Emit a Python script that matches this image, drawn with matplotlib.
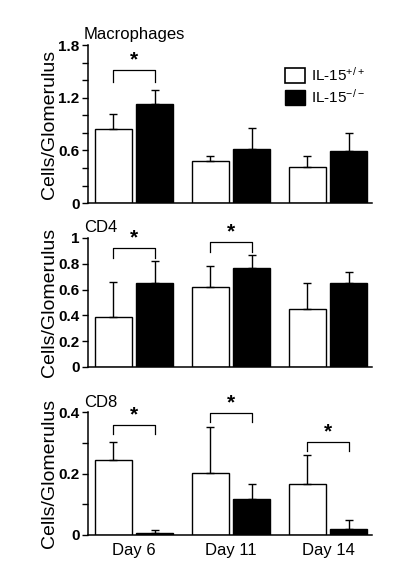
import numpy as np
import matplotlib
matplotlib.use('Agg')
import matplotlib.pyplot as plt
from matplotlib.patches import Patch

plt.rcParams['font.family'] = ['Liberation Sans', 'DejaVu Sans']
plt.rcParams['mathtext.fontset'] = 'custom'
plt.rcParams['mathtext.rm'] = 'Liberation Sans'
plt.rcParams['mathtext.default'] = 'regular'

days = ['Day 6', 'Day 11', 'Day 14']

# cells per glomerulus, mean and upper error (SEM)
mac_wt = [0.84, 0.48, 0.41]
mac_wt_err = [0.17, 0.06, 0.13]
mac_ko = [1.13, 0.62, 0.59]
mac_ko_err = [0.16, 0.24, 0.21]

cd4_wt = [0.385, 0.618, 0.452]
cd4_wt_err = [0.275, 0.162, 0.199]
cd4_ko = [0.649, 0.767, 0.651]
cd4_ko_err = [0.171, 0.101, 0.085]

cd8_wt = [0.245, 0.202, 0.167]
cd8_wt_err = [0.058, 0.149, 0.092]
cd8_ko = [0.0065, 0.116, 0.019]
cd8_ko_err = [0.0085, 0.049, 0.031]

# significance brackets: (day index, bracket height)
mac_sig = [(0, 1.51)]
cd4_sig = [(0, 0.922), (1, 0.969)]
cd8_sig = [(0, 0.359), (1, 0.397), (2, 0.303)]

fig = plt.figure(figsize=(4.13, 5.77), dpi=100)

x = np.arange(len(days))
w = 0.38
off = 0.215


def panel(rect, title, wt, wt_err, ko, ko_err, sig, ymax, major, minor, ytl):
    ax = fig.add_axes(rect)
    ax.bar(x - off, wt, w, color='white', edgecolor='black', linewidth=1,
           yerr=[np.zeros(3), wt_err], capsize=3,
           error_kw=dict(ecolor='black', elinewidth=1, capthick=1))
    ax.bar(x + off, ko, w, color='black', edgecolor='black', linewidth=1,
           yerr=[np.zeros(3), ko_err], capsize=3,
           error_kw=dict(ecolor='black', elinewidth=1, capthick=1))
    ax.set_xlim(-0.474, 2.454)
    ax.set_ylim(0, ymax)
    ax.set_yticks(major)
    ax.set_yticklabels(ytl, fontweight='bold', fontsize=11)
    if minor:
        ax.set_yticks(minor, minor=True)
    ax.tick_params(axis='y', which='both', direction='out', length=4, width=1, pad=2)
    ax.set_xticks([])
    for s in ['top', 'right']:
        ax.spines[s].set_visible(False)
    for s in ['left', 'bottom']:
        ax.spines[s].set_linewidth(1.1)
    ax.set_ylabel('Cells/Glomerulus', fontsize=14)
    ax.yaxis.set_label_coords(-0.105, 0.5)
    ax.text(-0.015, 1.02, title, transform=ax.transAxes, fontsize=12,
            ha='left', va='bottom')
    leg = ymax * 0.075
    for i, h in sig:
        x0, x1 = i - off, i + off
        ax.plot([x0, x0, x1, x1], [h - leg, h, h, h - leg], color='black',
                lw=0.9, clip_on=False)
        ax.text(i, h + ymax * 0.005, '*', ha='center', va='bottom',
                fontsize=15, fontweight='bold', clip_on=False)
    return ax


ax1 = panel([0.213, 0.648, 0.688, 0.274], 'Macrophages', mac_wt, mac_wt_err,
            mac_ko, mac_ko_err, mac_sig, 1.8, [0, 0.6, 1.2, 1.8],
            [0.2, 0.4, 0.8, 1.0, 1.4, 1.6], ['0', '0.6', '1.2', '1.8'])
ax1.legend(handles=[Patch(facecolor='white', edgecolor='black', linewidth=1.2,
                          label=r'IL-15$^{+/+}$'),
                    Patch(facecolor='black', edgecolor='black',
                          label=r'IL-15$^{-/-}$')],
           loc='upper left', bbox_to_anchor=(0.695, 0.87), frameon=False,
           fontsize=11, handlelength=1.3, handleheight=1.1, handletextpad=0.35,
           borderpad=0, borderaxespad=0, labelspacing=0.3)

ax2 = panel([0.213, 0.364, 0.688, 0.2236], 'CD4', cd4_wt, cd4_wt_err,
            cd4_ko, cd4_ko_err, cd4_sig, 1.0, [0, 0.2, 0.4, 0.6, 0.8, 1.0],
            None, ['0', '0.2', '0.4', '0.6', '0.8', '1'])

ax3 = panel([0.213, 0.0728, 0.688, 0.213], 'CD8', cd8_wt, cd8_wt_err,
            cd8_ko, cd8_ko_err, cd8_sig, 0.4, [0, 0.2, 0.4],
            [0.1, 0.3], ['0', '0.2', '0.4'])
ax3.set_xticks(x)
ax3.set_xticklabels(days, fontsize=12)
ax3.tick_params(axis='x', length=0, pad=6)

fig.savefig('out.png', dpi=100)
